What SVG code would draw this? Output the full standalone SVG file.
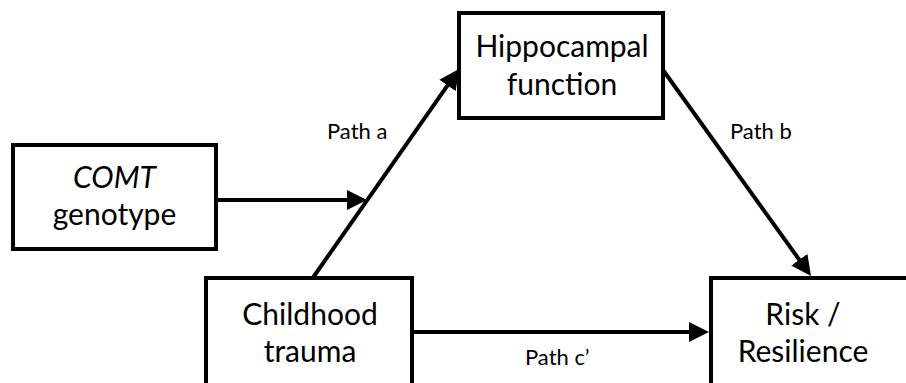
<svg xmlns="http://www.w3.org/2000/svg" width="906" height="383" viewBox="0 0 906 383">
<defs>
<marker id="ah" markerUnits="userSpaceOnUse" viewBox="0 0 20 20" markerWidth="20" markerHeight="20" refX="12" refY="10" orient="auto">
<path d="M0,0 L20,10 L0,20 Z" fill="#000"/>
</marker>
<style>
.box{fill:#fff;stroke:#000;stroke-width:4}
.lbl{font-family:Lato,"Liberation Sans",sans-serif;font-size:30px;fill:#000;text-anchor:middle}
.path{font-family:Lato,"Liberation Sans",sans-serif;font-size:22px;fill:#000}
.conn{stroke:#000;stroke-width:4;fill:none;marker-end:url(#ah)}
</style>
</defs>
<rect width="906" height="383" fill="#fff"/>
<g id="connectors">
<line class="conn" x1="216" y1="200" x2="359" y2="200"/>
<line class="conn" x1="312" y1="279" x2="454.4" y2="75.6"/>
<line class="conn" x1="663" y1="70" x2="806.3" y2="269.5"/>
<line class="conn" x1="412" y1="332" x2="701" y2="332"/>
<text class="path" x="327" y="139">Path a</text>
<text class="path" x="730" y="139">Path b</text>
<text class="path" x="525" y="365">Path c’</text>
</g>
<g id="comt">
<rect class="box" x="13" y="145" width="203" height="104"/>
<text class="lbl" x="114.5" y="188" font-style="italic">COMT</text>
<text class="lbl" x="114.5" y="225">genotype</text>
</g>
<g id="hippocampal">
<rect class="box" x="459" y="13" width="204" height="105"/>
<text class="lbl" x="562" y="57">Hippocampal</text>
<text class="lbl" x="562" y="95">function</text>
</g>
<g id="childhood">
<rect class="box" x="206" y="278" width="206" height="110"/>
<text class="lbl" x="310" y="325">Childhood</text>
<text class="lbl" x="310" y="362">trauma</text>
</g>
<g id="risk">
<rect class="box" x="711" y="278" width="200" height="110"/>
<text class="lbl" x="803" y="325">Risk /</text>
<text class="lbl" x="803" y="362">Resilience</text>
</g>
</svg>
